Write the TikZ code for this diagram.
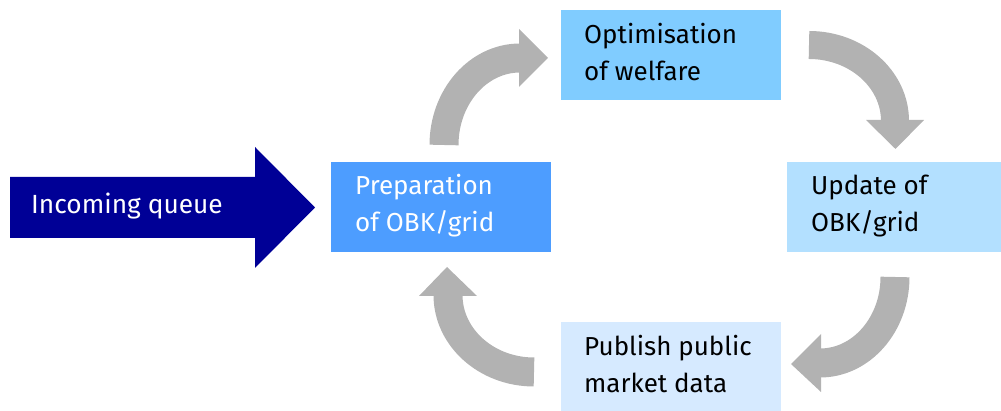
\documentclass[tikz,border=0pt]{standalone}
\usepackage{fontspec}
\setmainfont{Fira Sans}
\definecolor{navy}{RGB}{0,0,150}
\definecolor{prepblue}{RGB}{77,157,255}
\definecolor{optblue}{RGB}{128,204,255}
\definecolor{updblue}{RGB}{179,224,255}
\definecolor{pubblue}{RGB}{214,234,255}
\definecolor{flowgray}{RGB}{178,178,178}
\begin{document}
\begin{tikzpicture}[x=1pt,y=1pt,
  box/.style={rectangle, draw=none, inner sep=0pt, anchor=north west,
              minimum width=220pt, minimum height=90pt},
  lbl/.style={inner sep=0pt, anchor=base west, align=left,
              font=\fontsize{26}{37}\selectfont},
  flow/.style={line width=29pt, draw=flowgray},
  flowhead/.style={fill=flowgray}]
\useasboundingbox (0,0) rectangle (1001,411);

% incoming queue arrow
\fill[navy] (10,234) -- (255,234) -- (255,264) -- (315,203.5) -- (255,143)
  -- (255,173) -- (10,173) -- cycle;
\node[lbl, text=white, font=\fontsize{26.3}{37}\selectfont] (inq) at (31,197) {Incoming queue};

% process boxes
\node[box, fill=prepblue] (prep) at (331,249) {};
\node[box, fill=optblue] (opt) at (561,401) {};
\node[box, fill=updblue, minimum width=214pt] (upd) at (787,249) {};
\node[box, fill=pubblue, minimum height=89pt] (pub) at (561,89) {};

% labels, anchored on the baseline of their last line
\node[lbl, text=white] (preptxt) at (355,179) {Preparation\\of OBK/grid};
\node[lbl] (opttxt) at (584,330) {Optimisation\\of welfare};
\node[lbl] (updtxt) at (811,179) {Update of\\OBK/grid};
\node[lbl] (pubtxt) at (584,18) {Publish public\\market data};

% curved flow arrows of the cycle
\draw[flow] (444,266) arc[start angle=180, end angle=90, x radius=76, y radius=87];
\fill[flowhead] (519,382) -- (548,353) -- (519,324) -- cycle;

\draw[flow, line width=28pt] (809,366) arc[start angle=90, end angle=0, x radius=86, y radius=76];
\fill[flowhead] (866,291) -- (924,291) -- (895.5,262) -- cycle;

\draw[flow] (895,134) arc[start angle=0, end angle=-90, x radius=75, y radius=86];
\fill[flowhead] (821,77) -- (821,19) -- (791,47) -- cycle;

\draw[flow] (534,39) arc[start angle=270, end angle=180, x radius=86, y radius=77];
\fill[flowhead] (419,115) -- (477,115) -- (447,144) -- cycle;
\end{tikzpicture}
\end{document}
